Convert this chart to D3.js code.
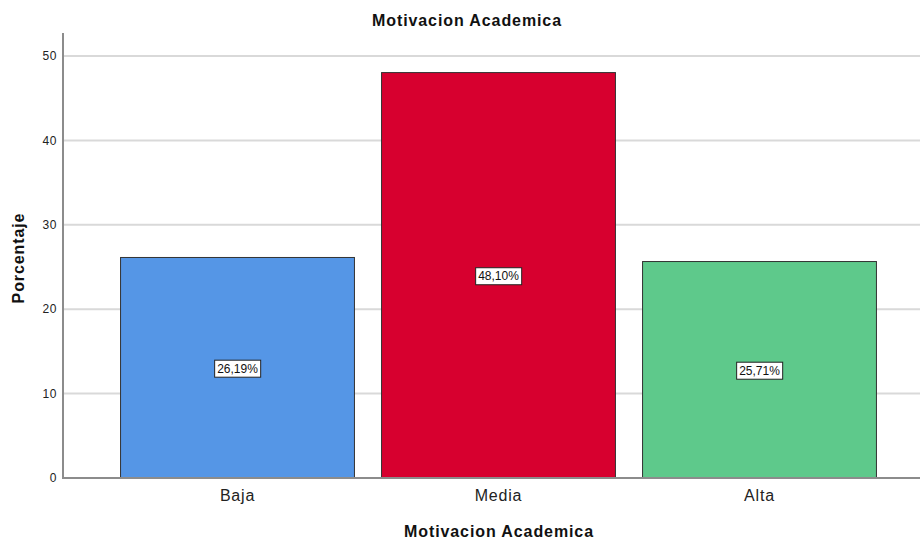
<!DOCTYPE html>
<html><head><meta charset="utf-8">
<script src="https://cdn.jsdelivr.net/npm/d3@7"></script>
<style>body{margin:0;background:#fff}svg{display:block;font-family:Arial,"Liberation Sans",sans-serif}</style>
</head><body><svg id="c" width="920" height="542"></svg>
<script>
const categories = ["Baja", "Media", "Alta"];
const values = [26.19, 48.10, 25.71];
const labels = ["26,19%", "48,10%", "25,71%"];
const colors = ["#5596e6", "#d7002f", "#5ec98b"];
const yTicks = [0, 10, 20, 30, 40, 50];

const svg = d3.select("#c");
const x0 = 63, x1 = 920, yTop = 33, yBot = 478;
const y = d3.scaleLinear().domain([0, 52.73]).range([yBot, yTop]);
const x = d3.scaleBand().domain(categories).range([107, 890]).paddingInner(0.1).paddingOuter(0.05);

// gridlines
svg.append("g").selectAll("line").data(yTicks.filter(d => d > 0)).join("line")
  .attr("x1", x0).attr("x2", x1).attr("y1", d => y(d)).attr("y2", d => y(d))
  .attr("stroke", "#d9d9d9").attr("stroke-width", 2);

// bars
svg.append("g").selectAll("rect").data(values).join("rect")
  .attr("x", (d, i) => x(categories[i]) + 0.5)
  .attr("y", d => y(d) + 0.5)
  .attr("width", x.bandwidth() - 1)
  .attr("height", d => yBot - y(d) - 0.5)
  .attr("fill", (d, i) => colors[i])
  .attr("stroke", "#333").attr("stroke-width", 1);

// axes
svg.append("line").attr("x1", x0).attr("x2", x0).attr("y1", yTop).attr("y2", yBot + 1)
  .attr("stroke", "#8c8c8c").attr("stroke-width", 2);
svg.append("line").attr("x1", x0).attr("x2", x1).attr("y1", yBot).attr("y2", yBot)
  .attr("stroke", "#8c8c8c").attr("stroke-width", 2);

// y tick labels
svg.append("g").selectAll("text").data(yTicks).join("text")
  .attr("x", x0 - 6).attr("y", d => y(d)).attr("dy", "0.35em")
  .attr("text-anchor", "end").attr("font-size", 12).attr("letter-spacing", 0.6).attr("fill", "#222")
  .text(d => d);

// x tick labels
svg.append("g").selectAll("text").data(categories).join("text")
  .attr("x", d => x(d) + x.bandwidth() / 2).attr("y", 501)
  .attr("text-anchor", "middle").attr("font-size", 16).attr("letter-spacing", 0.8).attr("fill", "#222")
  .text(d => d);

// value labels
const lg = svg.append("g").selectAll("g").data(values).join("g")
  .attr("transform", (d, i) => `translate(${x(categories[i]) + x.bandwidth() / 2},${(y(d) + yBot) / 2 + 1})`);
lg.each(function(d, i) {
  const g = d3.select(this);
  const t = g.append("text").attr("text-anchor", "middle").attr("dy", "0.35em")
    .attr("font-size", 12).attr("fill", "#111").text(labels[i]);
  const bb = t.node().getBBox();
  g.insert("rect", "text").attr("x", bb.x - 2.5).attr("y", bb.y - 1.5)
    .attr("width", bb.width + 5).attr("height", bb.height + 3)
    .attr("fill", "#fff").attr("stroke", "#222").attr("stroke-width", 1);
});

// titles
svg.append("text").attr("x", 467).attr("y", 26).attr("text-anchor", "middle")
  .attr("font-size", 16).attr("letter-spacing", 0.9).attr("font-weight", "bold").attr("fill", "#111").text("Motivacion Academica");
svg.append("text").attr("x", 499).attr("y", 537).attr("text-anchor", "middle")
  .attr("font-size", 16).attr("letter-spacing", 0.9).attr("font-weight", "bold").attr("fill", "#111").text("Motivacion Academica");
svg.append("text").attr("transform", "translate(24,258) rotate(-90)").attr("text-anchor", "middle")
  .attr("font-size", 16).attr("letter-spacing", 0.9).attr("font-weight", "bold").attr("fill", "#111").text("Porcentaje");
</script></body></html>
